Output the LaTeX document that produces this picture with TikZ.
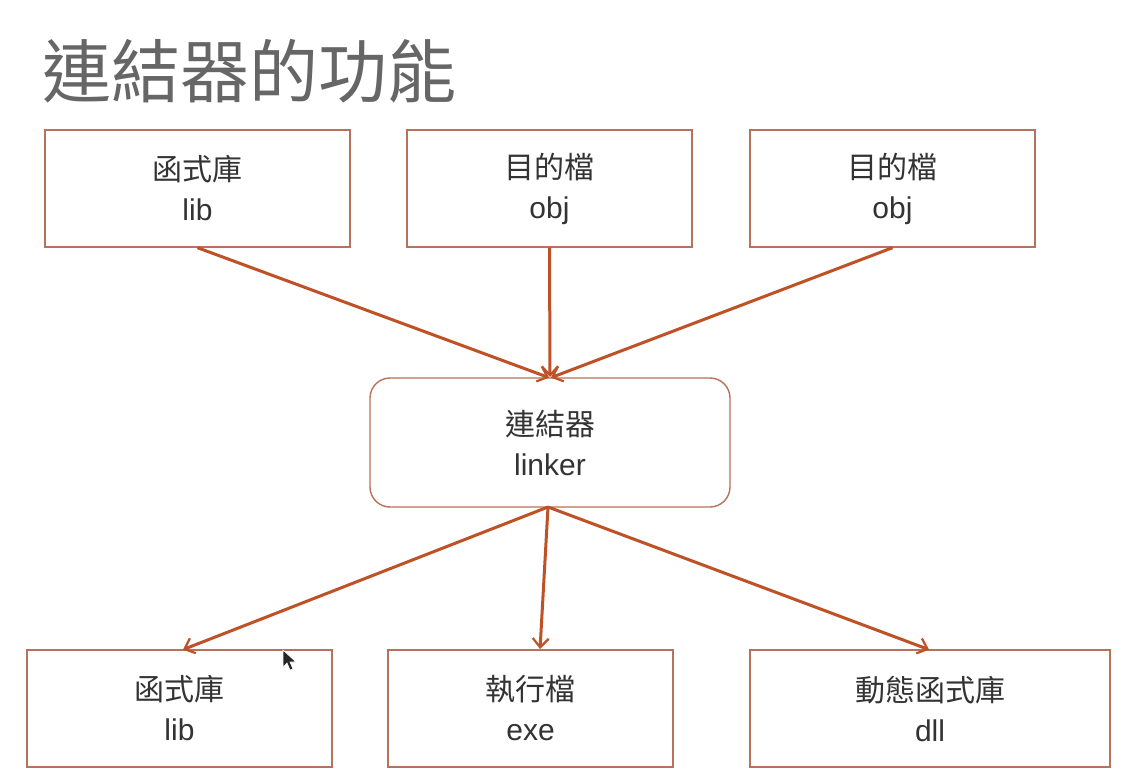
\documentclass[tikz,border=0pt]{standalone}
\usepackage{fontspec}
\setmainfont{Liberation Sans}
\newfontfamily\cjk{Noto Sans CJK TC}
\usetikzlibrary{arrows.meta}
\definecolor{boxline}{HTML}{B8715A}
\definecolor{flow}{HTML}{BE5226}
\definecolor{titlegray}{HTML}{666666}
\definecolor{textgray}{HTML}{333333}
\tikzset{
  x=1pt, y=-1pt,
  unit/.style={draw=boxline, line width=1.4pt, fill=white, minimum height=117pt,
    align=center, text=textgray, font=\fontsize{30}{40}\selectfont, inner sep=0pt},
  tool/.style={unit, rounded corners=20pt, minimum height=129pt},
  flowarrow/.style={draw=flow, line width=3pt,
    -{Straight Barb[length=9pt,width=16pt,line width=2.2pt]}, shorten >=1pt}
}
\begin{document}
\begin{tikzpicture}
\useasboundingbox[fill=white] (0,0) rectangle (1137,778);

% title
\node[anchor=west, text=titlegray, font=\cjk\fontsize{69}{75}\selectfont, inner sep=0pt]
  (title) at (42,71) {連結器的功能};

% inputs
\node[unit, minimum width=305pt] (lib1) at (197.5,188.5) {{\cjk 函式庫}\\lib};
\node[unit, minimum width=285pt] (obj1) at (549.5,188.5) {{\cjk 目的檔}\\obj};
\node[unit, minimum width=285pt] (obj2) at (892.5,188.5) {{\cjk 目的檔}\\obj};

% linker
\node[tool, minimum width=360pt] (linker) at (550,442.5) {{\cjk 連結器}\\linker};

% outputs
\node[unit, minimum width=305pt] (lib2) at (179.5,708.5) {{\cjk 函式庫}\\lib};
\node[unit, minimum width=285pt] (exe) at (530.5,708.5) {{\cjk 執行檔}\\exe};
\node[unit, minimum width=360pt] (dll) at (930,708.5) {{\cjk 動態函式庫}\\dll};

% connectors
\coordinate (linkin) at (550,378);
\coordinate (linkout) at (548,507);
\draw[flowarrow] (lib1.south) -- (linkin);
\draw[flowarrow] (obj1.south) -- (linkin);
\draw[flowarrow] (obj2.south) -- (linkin);
\draw[flowarrow] (linkout) -- (182,650) coordinate (l2in);
\draw[flowarrow] (linkout) -- (540,650) coordinate (exin);
\draw[flowarrow] (linkout) -- (930,650) coordinate (dlin);

% pointer
\fill[black!85, draw=white, line width=0.6pt]
  (283,650) -- (283,667) -- (287,663) -- (290,670) -- (293,669) -- (290,662) -- (296,662) -- cycle;
\end{tikzpicture}
\end{document}
